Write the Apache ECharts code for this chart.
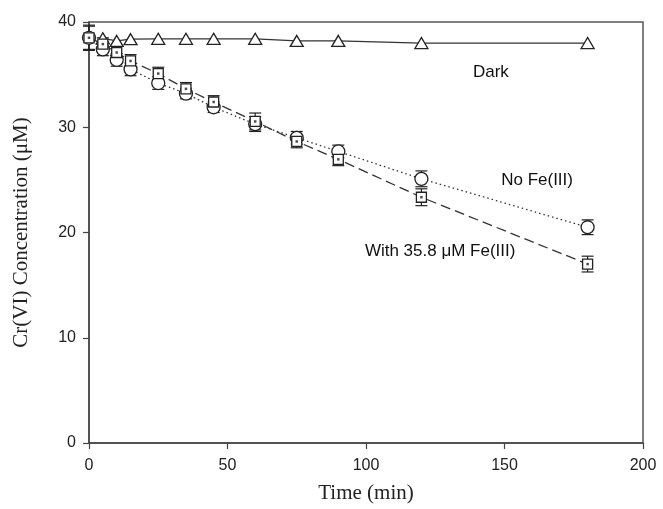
<!DOCTYPE html>
<html>
<head>
<meta charset="utf-8">
<script src="https://cdn.jsdelivr.net/npm/echarts@6/dist/echarts.min.js"></script>
<style>
html,body{margin:0;padding:0;background:#fff;}
#chart{width:663px;height:509px;}
</style>
</head>
<body>
<div id="chart"></div>
<script>
// ---- data ----
const times = [0, 5, 10, 15, 25, 35, 45, 60, 75, 90, 120, 180];
const darkTimes = [5, 10, 15, 25, 35, 45, 60, 75, 90, 120, 180];
const dark = [38.45, 38.2, 38.37, 38.4, 38.4, 38.4, 38.4, 38.2, 38.2, 38.0, 38.0];
const noFe = [38.5, 37.4, 36.4, 35.5, 34.2, 33.2, 31.9, 30.3, 29.0, 27.7, 25.1, 20.5];
const noFeErr = [1.1, 0.6, 0.6, 0.6, 0.6, 0.5, 0.5, 0.7, 0.6, 0.6, 0.75, 0.7];
const withFe = [38.5, 37.9, 37.1, 36.3, 35.1, 33.65, 32.4, 30.55, 28.65, 26.95, 23.35, 17.0];
const withFeErr = [1.2, 0.6, 0.6, 0.6, 0.6, 0.6, 0.6, 0.8, 0.6, 0.6, 0.8, 0.75];
const xTicks = {min: 0, max: 200, interval: 50};
const yTicks = {min: 0, max: 40, interval: 10};
const notes = [
  {text: 'Dark', x: 138.6, y: 35.2},
  {text: 'No Fe(III)', x: 148.8, y: 25.0},
  {text: 'With 35.8 \u03bcM Fe(III)', x: 99.6, y: 18.2}
];

const pair = (xs, ys) => xs.map((x, i) => [x, ys[i]]);
const errData = (ys, es) => times.map((x, i) => [x, ys[i] - es[i], ys[i] + es[i]]);

const ink = '#222';
function errRender(params, api) {
  const x = api.value(0);
  const lo = api.coord([x, api.value(1)]);
  const hi = api.coord([x, api.value(2)]);
  const w = 6;
  const st = {stroke: ink, lineWidth: 1.2, fill: null};
  return {
    type: 'group',
    children: [
      {type: 'line', shape: {x1: lo[0], y1: lo[1], x2: hi[0], y2: hi[1]}, style: st},
      {type: 'line', shape: {x1: lo[0] - w, y1: lo[1], x2: lo[0] + w, y2: lo[1]}, style: st},
      {type: 'line', shape: {x1: hi[0] - w, y1: hi[1], x2: hi[0] + w, y2: hi[1]}, style: st}
    ]
  };
}

const chart = echarts.init(document.getElementById('chart'), null, {renderer: 'canvas'});
const axisCommon = {
  axisLine: {show: true, onZero: false, lineStyle: {color: '#444', width: 1.5}},
  axisTick: {show: true, inside: false, length: 6, lineStyle: {color: '#444', width: 1.2}},
  splitLine: {show: false},
  nameLocation: 'middle',
  nameTextStyle: {fontFamily: '"Liberation Serif", "Times New Roman", serif', fontSize: 21, color: ink}
};
chart.setOption({
  animation: false,
  backgroundColor: '#fff',
  grid: {left: 89, right: 20, top: 22, bottom: 61, show: true, borderColor: '#555', borderWidth: 1.5, containLabel: false},
  xAxis: Object.assign({}, axisCommon, {
    type: 'value', min: xTicks.min, max: xTicks.max, interval: xTicks.interval,
    name: 'Time (min)', nameGap: 40,
    axisLabel: {fontFamily: '"Liberation Sans", Arial, sans-serif', fontSize: 16, color: ink, margin: 15}
  }),
  yAxis: Object.assign({}, axisCommon, {
    type: 'value', min: yTicks.min, max: yTicks.max, interval: yTicks.interval,
    name: 'Cr(VI) Concentration (\u03bcM)', nameGap: 57,
    axisLabel: {fontFamily: '"Liberation Sans", Arial, sans-serif', fontSize: 16, color: ink, margin: 13}
  }),
  series: [
    {
      type: 'custom', name: 'errNoFe', renderItem: errRender, data: errData(noFe, noFeErr), z: 1,
      encode: {x: 0, y: [1, 2]}, silent: true
    },
    {
      type: 'custom', name: 'errWithFe', renderItem: errRender, data: errData(withFe, withFeErr), z: 1,
      encode: {x: 0, y: [1, 2]}, silent: true
    },
    {
      type: 'line', name: 'Dark', data: pair(darkTimes, dark), z: 3,
      symbol: 'triangle', symbolSize: [13, 11], showAllSymbol: true,
      lineStyle: {color: '#333', width: 1.2, type: 'solid'},
      itemStyle: {color: '#fff', borderColor: ink, borderWidth: 1.3}
    },
    {
      type: 'line', name: 'No Fe(III)', data: pair(times, noFe), z: 3,
      symbol: 'circle', symbolSize: 13, showAllSymbol: true,
      lineStyle: {color: '#333', width: 1.3, type: [1.5, 3]},
      itemStyle: {color: '#fff', borderColor: ink, borderWidth: 1.3}
    },
    {
      type: 'line', name: 'With Fe(III)', data: pair(times, withFe), z: 4,
      symbol: 'rect', symbolSize: 10, showAllSymbol: true,
      lineStyle: {color: '#333', width: 1.3, type: [10, 5]},
      itemStyle: {color: '#fff', borderColor: ink, borderWidth: 1.3}
    },
    {
      type: 'scatter', name: 'dot', data: pair(times, withFe), z: 5,
      symbol: 'rect', symbolSize: 2.5, itemStyle: {color: ink}, silent: true
    }
  ]
});

chart.setOption({
  graphic: notes.map(n => {
    const p = chart.convertToPixel({gridIndex: 0}, [n.x, n.y]);
    return {
      type: 'text', x: p[0], y: p[1], z: 10,
      style: {
        text: n.text, fill: '#111', fontSize: 17,
        fontFamily: '"Liberation Sans", Arial, sans-serif',
        textAlign: 'left', textVerticalAlign: 'middle'
      }
    };
  })
});
</script>
</body>
</html>
